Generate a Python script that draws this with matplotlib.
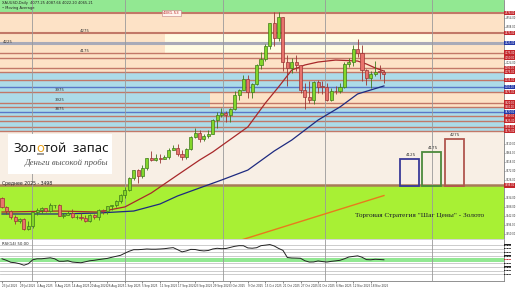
import matplotlib
matplotlib.use("Agg")
import matplotlib.pyplot as plt
import matplotlib.transforms as mtransforms
from matplotlib.patches import Rectangle
import numpy as np
import pandas as pd

# ---------------- data ----------------
dates = pd.bdate_range("2025-07-23", "2025-11-21")
opens = [3431, 3387, 3368, 3337, 3314, 3326, 3274,
         3289, 3363, 3373, 3381, 3369, 3397, 3398, 3342, 3348, 3356, 3336, 3336, 3332, 3315, 3348, 3339, 3371, 3365, 3393, 3397, 3416,
         3448, 3476, 3533, 3578, 3545, 3587, 3636, 3626, 3640, 3634, 3643, 3679, 3690, 3660, 3643, 3685, 3746, 3764, 3736, 3749, 3760, 3833,
         3858, 3865, 3856, 3886, 3961, 3985, 4041, 3976, 4017, 4110, 4143, 4208, 4326, 4251, 4356, 4125, 4095, 4126, 4112, 3982, 3951, 3931, 4024,
         4002, 4001, 3932, 3980, 3977, 4000, 4116, 4128, 4194, 4172, 4084, 4046, 4066, 4078, 4077]
highs = [3438, 3393, 3373, 3345, 3334, 3334, 3315,
         3363, 3385, 3390, 3385, 3409, 3400, 3404, 3358, 3368, 3375, 3345, 3358, 3345, 3350, 3351, 3378, 3376, 3393, 3399, 3423, 3454,
         3489, 3540, 3578, 3579, 3600, 3636, 3674, 3656, 3656, 3655, 3686, 3703, 3707, 3677, 3686, 3749, 3791, 3780, 3761, 3782, 3835, 3872,
         3895, 3875, 3890, 3977, 3991, 4060, 4059, 4022, 4116, 4179, 4218, 4326, 4380, 4381, 4359, 4162, 4146, 4161, 4114, 4019, 4030, 4030, 4034,
         4030, 4020, 3995, 4007, 4022, 4127, 4148, 4212, 4245, 4212, 4093, 4083, 4132, 4110, 4087]
lows = [3381, 3351, 3325, 3301, 3308, 3268, 3270,
        3281, 3346, 3358, 3360, 3364, 3381, 3341, 3332, 3346, 3331, 3326, 3323, 3312, 3311, 3324, 3321, 3352, 3352, 3374, 3386, 3408,
        3436, 3470, 3527, 3511, 3536, 3578, 3620, 3620, 3613, 3630, 3632, 3676, 3646, 3628, 3633, 3677, 3737, 3717, 3722, 3739, 3758, 3793,
        3848, 3820, 3823, 3884, 3933, 3984, 3945, 3945, 4008, 4093, 4130, 4195, 4211, 4236, 4082, 4004, 4072, 4081, 3971, 3886, 3919, 3915, 3970,
        3962, 3928, 3930, 3965, 3970, 3994, 4103, 4105, 4152, 4032, 4010, 3997, 4056, 4039, 4022]
closes = [3387, 3368, 3337, 3314, 3326, 3274, 3289,
          3363, 3373, 3381, 3369, 3397, 3398, 3342, 3348, 3356, 3336, 3336, 3332, 3315, 3348, 3339, 3371, 3365, 3393, 3397, 3416, 3448,
          3476, 3533, 3578, 3545, 3587, 3636, 3626, 3640, 3634, 3643, 3679, 3690, 3660, 3643, 3685, 3746, 3764, 3736, 3749, 3760, 3833, 3858,
          3865, 3856, 3886, 3961, 3985, 4041, 3976, 4017, 4110, 4143, 4208, 4326, 4251, 4356, 4125, 4095, 4126, 4112, 3982, 3951, 3931, 4024, 4002,
          4001, 3932, 3980, 3977, 4000, 4116, 4128, 4194, 4172, 4084, 4046, 4066, 4078, 4077, 4065]

# moving averages (bar index, price)
ma_fast_idx = [0, 13, 22, 28, 34, 40, 45, 48, 56, 60, 63, 66, 69, 72, 76, 81, 83, 85, 87]
ma_fast_val = [3362, 3367, 3362, 3388, 3459, 3551, 3627, 3668, 3796, 3918, 4000, 4086, 4112, 4127, 4137, 4132, 4117, 4097, 4081]
ma_slow_idx = [0, 13, 22, 30, 36, 40, 50, 56, 62, 66, 72, 77, 81, 87]
ma_slow_val = [3352, 3352, 3357, 3367, 3403, 3444, 3525, 3576, 3673, 3729, 3831, 3898, 3964, 4005]

# trend line (bar index, price)
trend_idx = [52, 87]
trend_val = [3202, 3446]

# RSI(14) per bar
rsi = [52.7, 48.6, 43.2, 41.9, 39.2, 35.1, 39.2, 50.0, 52.7, 52.7, 54.1, 55.4, 52.7, 45.9, 45.9, 47.3, 43.8, 42.7,
       41.9, 44.6, 47.3, 48.6, 50.5, 52.2, 53.8, 56.8, 59.5, 62.2, 68.1, 73.5, 77.6, 77.6, 78.4, 79.5, 78.9, 78.9,
       79.5, 80.3, 81.9, 83.2, 77.6, 71.6, 74.3, 78.4, 78.1, 75.4, 74.3, 75.4, 79.5, 81.4, 80.3, 80.8, 83.8, 86.8,
       88.6, 88.4, 82.4, 81.6, 83.0, 88.6, 90.0, 91.6, 87.8, 81.1, 75.7, 56.2, 54.9, 54.6, 54.1, 47.3, 43.8, 44.1,
       46.8, 45.1, 43.8, 45.7, 47.0, 48.6, 52.7, 57.6, 59.2, 60.8, 57.0, 50.5, 50.0, 51.4, 50.8, 50.0]
rsi_levels = [10, 20, 30, 40, 60, 70, 80, 90]

# horizontal price levels and their label colour
level_prices = [4378, 4275, 4225, 4175, 4150, 4095, 4075, 4035, 4000, 3975, 3920, 3900, 3870, 3850, 3825, 3795, 3775, 3498]
level_kinds = ['r', 'r', 'g', 'r', 'r', 'r', 'r', 'r', 'b', 'r', 'r', 'r', 'b', 'r', 'r', 'r', 'r', 'a']

peak_label = "4381.53"
avg_label = "Среднее 2025 - 3498"
target_labels = ["4125", "4175", "4275"]
left_labels = ["4275", "4225", "4175", "3975", "3925", "3875"]

# ---------------- layout ----------------
W, H = 516, 289
fig = plt.figure(figsize=(W / 100, H / 100), dpi=100)
fig.patch.set_facecolor("white")
NARROW = ["Liberation Sans Narrow", "DejaVu Sans"]
RIGHT_PX = 504


def px_axes(x0, y0, x1, y1):
    return fig.add_axes([x0 / W, 1 - y1 / H, (x1 - x0) / W, (y1 - y0) / H])


PX_PER_BAR = 4.39
X0PX = 2.0
xmin = (0 - X0PX) / PX_PER_BAR
xmax = (RIGHT_PX - X0PX) / PX_PER_BAR
P_TOP, P_BOT = 4443.3, 3224.4

ax = px_axes(0, 0, RIGHT_PX, 239)
axr = px_axes(0, 239, RIGHT_PX, 281)
for a in (ax, axr):
    a.set_xlim(xmin, xmax)
ax.set_ylim(P_BOT, P_TOP)
axr.set_ylim(-8, 106.8)

PEACH = "#fde2c6"
BLUE = "#acdbe8"
GREEN = "#92e892"
LIME = "#a8f034"
CREAM = "#f8efe5"
PALE = "#fffbe3"

bands = [(4378, P_TOP, GREEN), (4075, 4378, PEACH), (3775, 4075, BLUE),
         (3498, 3775, CREAM), (P_BOT, 3498, LIME)]
for lo, hi, c in bands:
    ax.axhspan(lo, hi, color=c, lw=0, zorder=0.3)


def bx(px):
    return (px - X0PX) / PX_PER_BAR


ax.add_patch(Rectangle((bx(165), 4175), bx(432) - bx(165), 100, color=PALE, lw=0, zorder=0.4))
ax.add_patch(Rectangle((bx(210), 3900), xmax - bx(210), 75, color=PEACH, lw=0, zorder=0.4))

line_col = {'r': "#c27868", 'g': "#a9aab8", 'b': "#5a78c8", 'a': "#a87a58"}
line_w = {'r': 1.0, 'g': 2.2, 'b': 1.0, 'a': 1.8}
for p, k in zip(level_prices, level_kinds):
    lw = line_w[k]
    if p in (4275, 4378):
        lw = 1.5
    ax.axhline(p, color=line_col[k], lw=lw, zorder=1)

vgrid = [bx(32), bx(125), bx(223), bx(325), bx(432)]
for a in (ax, axr):
    for v in vgrid:
        a.axvline(v, color="#9a9a9a", lw=0.6, zorder=1.5)

# trend line
ax.plot(trend_idx, trend_val, color="#e87a1c", lw=1.0, zorder=3)

# moving averages
ax.plot(ma_slow_idx, ma_slow_val, color="#1e2a80", lw=0.9, zorder=4)
ax.plot(ma_fast_idx, ma_fast_val, color="#a8282a", lw=0.9, zorder=4)

# candles
x = np.arange(len(dates))
o = np.array(opens, float)
c = np.array(closes, float)
up = c >= o
edge = np.where(up, "#3f7a1c", "#9a3434")
face = np.where(up, "#84d62a", "#e8736c")
ax.vlines(x, lows, highs, colors=edge, lw=0.6, zorder=5)
ax.bar(x, np.maximum(np.abs(c - o), 2.0), bottom=np.minimum(o, c), width=0.7,
       color=face, edgecolor=edge, linewidth=0.5, zorder=6)

# right price axis
for a in (ax, axr):
    for s in ("top", "left", "bottom"):
        a.spines[s].set_visible(False)
    a.spines["right"].set_color("#808080")
    a.spines["right"].set_linewidth(0.6)
    a.set_xticks([])
ax.yaxis.tick_right()
tick_vals = [v for v in np.arange(4400, 3230, -46)
             if min(abs(v - p) for p in level_prices) > 22]
ax.set_yticks(tick_vals)
ax.set_yticklabels([f"{v:.2f}" for v in tick_vals], family=NARROW)
ax.tick_params(axis="y", labelsize=1.8, length=0.8, pad=0.4, colors="#333333", width=0.4)

blend = mtransforms.blended_transform_factory(ax.transAxes, ax.transData)
box_col = {'r': "#c3262b", 'g': "#2338a8", 'b': "#2338a8", 'a': "#c3262b"}
for p, k in zip(level_prices, level_kinds):
    ax.text(1.001, p, f"{p:.2f}", transform=blend, fontsize=1.8, color="white", va="center", ha="left",
            clip_on=False, zorder=10, family=NARROW,
            bbox=dict(boxstyle="square,pad=0.08", fc=box_col[k], ec="none"))

# indicator panel
axr.set_facecolor("white")
axr.axhspan(45, 55, color=GREEN, lw=0, zorder=0.5)
for lv in rsi_levels:
    axr.axhline(lv, color="#c4c4c4", lw=0.6, zorder=1)
axr.plot(x, rsi, color="#222222", lw=0.7, zorder=4)
axr.spines["bottom"].set_visible(True)
axr.spines["bottom"].set_color("#808080")
axr.spines["bottom"].set_linewidth(0.6)
axr.spines["top"].set_visible(True)
axr.spines["top"].set_color("#c0c0c0")
axr.spines["top"].set_linewidth(0.5)
axr.set_yticks([])
blendr = mtransforms.blended_transform_factory(axr.transAxes, axr.transData)
for lv in rsi_levels:
    if abs(lv - rsi[-1]) < 8:
        continue
    axr.text(1.001, lv, f"{lv:.2f}", transform=blendr, fontsize=1.7, color="white", va="center",
             clip_on=False, family=NARROW, bbox=dict(boxstyle="square,pad=0.08", fc="#202020", ec="none"))
axr.text(1.001, rsi[-1], f"{rsi[-1]:.2f}", transform=blendr, fontsize=1.7, color="white", va="center",
         clip_on=False, family=NARROW, bbox=dict(boxstyle="square,pad=0.08", fc="#c3262b", ec="none"))
axr.text(0.004, 0.93, f"RSI(14) {rsi[-1]:.2f}", transform=axr.transAxes, fontsize=2.8, color="#222222",
         va="top", ha="left")

# date labels
lab_idx = list(range(0, len(dates), 4))
axr.set_xticks(lab_idx)
axr.set_xticklabels([f"{dates[i].day} {dates[i].strftime('%b %Y')}" for i in lab_idx], family=NARROW)
axr.tick_params(axis="x", labelsize=2.0, length=1.2, pad=0.8, colors="#333333", width=0.4)
for t in axr.get_xticklabels():
    t.set_horizontalalignment("left")

# ---------------- overlay (pixel coordinates) ----------------
ov = fig.add_axes([0, 0, 1, 1])
ov.set_xlim(0, W)
ov.set_ylim(H, 0)
ov.axis("off")
ov.patch.set_alpha(0)

ov.text(2, 3, "XAUUSD,Daily  4077.25 4087.66 4022.20 4065.21", fontsize=2.6, color="#222222", va="center")
ov.text(2, 7.5, "\u2022 Moving Average", fontsize=2.6, color="#222222", va="center")

# peak label
ax.text(bx(163), 4377, peak_label, fontsize=3.0, color="#c03030", va="center", ha="left", zorder=9,
        bbox=dict(boxstyle="square,pad=0.2", fc="#fff4ee", ec="#c08080", lw=0.4))

lpos = [(80, 31), (3, 42), (80, 51), (55, 90), (55, 100), (55, 109)]
for (lx, ly), t in zip(lpos, left_labels):
    ov.text(lx, ly, t, fontsize=2.8, color="#333333", va="center", ha="left")

ov.text(2, 183, avg_label, fontsize=3.3, color="#222222", va="center", ha="left")

# logo
ov.add_patch(Rectangle((8, 134), 104, 40, color="white", lw=0, zorder=2))
renderer = fig.canvas.get_renderer()
cx = 13
for part, col in [("Зол", "#1a1a1a"), ("о", "#e8a21c"), ("той  запас", "#1a1a1a")]:
    t = ov.text(cx, 148, part, fontsize=9.5, color=col, va="center", ha="left",
                family=["Noto Sans", "DejaVu Sans"], zorder=3)
    bb = t.get_window_extent(renderer)
    if part == "о":
        ov.add_patch(Rectangle((cx + 0.5, 153), (bb.width) - 1, 1.5, color="#9a9a9a", lw=0, zorder=3))
    cx = ov.transData.inverted().transform((bb.x1, bb.y0))[0]
ov.text(25, 163, "Деньги высокой пробы", fontsize=6.3, color="#555555", style="italic",
        family=["Liberation Serif", "DejaVu Serif"], va="center", ha="left", zorder=3)

# target boxes
boxes = [(400, 159, 419, 186, "#3a3a98"), (422, 152, 441, 186, "#4c8a3c"), (445, 139, 464, 186, "#b0564e")]
for (x0, y0, x1, y1, col), lab in zip(boxes, target_labels):
    ov.add_patch(Rectangle((x0, y0), x1 - x0, y1 - y0, fill=False, ec=col, lw=1.3, zorder=3))
    ov.text((x0 + x1) / 2 + 1, y0 - 2, lab, fontsize=3.0, color="#333333", ha="center", va="bottom")

ov.text(355, 215, "Торговая Стратегия \"Шаг Цены\" - Золото", fontsize=5.2, color="#1a1a2a",
        family=["Liberation Serif", "DejaVu Serif"], va="center", ha="left")

fig.savefig("out.png", dpi=100)
